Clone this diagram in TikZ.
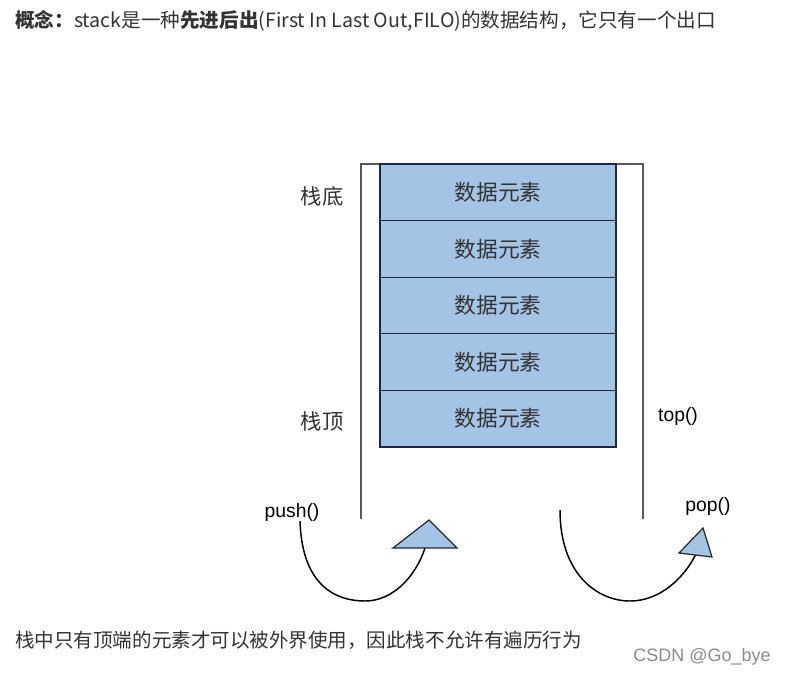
\documentclass[tikz,border=0pt]{standalone}
\usepackage{fontspec}
\setmainfont{Noto Sans CJK SC}
\newfontfamily\arialf{Liberation Sans}
\begin{document}
\begin{tikzpicture}[x=0.75pt,y=-0.75pt,
  elem/.style={draw=navy,line width=1pt,fill=boxblue,minimum width=177pt,minimum height=42.45pt,inner sep=0pt,text=txt,font=\fontsize{16.3}{19}\selectfont},
  lbl/.style={text=txt,font=\fontsize{16}{19}\selectfont,inner sep=0pt},
  fn/.style={text=black,font=\arialf\fontsize{14.5}{17}\selectfont,inner sep=0pt},
  wall/.style={draw=black!65,line width=1.1pt},
  curv/.style={draw=black,line width=1.1pt},
  tri/.style={draw=black!85,line width=0.9pt,fill=boxblue,line join=miter}]
\definecolor{boxblue}{RGB}{164,196,230}
\definecolor{navy}{RGB}{30,40,70}
\definecolor{txt}{RGB}{51,51,51}
\useasboundingbox (0,0) rectangle (787,675);
\fill[white] (0,0) rectangle (787,675);
% heading
\node[anchor=west,inner sep=0pt,text=txt,font=\fontsize{14.7}{17}\selectfont] (head) at (15,21) {\textbf{概念：}stack是一种\textbf{先进后出}(First In Last Out,FILO)的数据结构，它只有一个出口};
% container
\coordinate (wl) at (361,519);
\coordinate (wtl) at (361,164);
\coordinate (wtr) at (643,164);
\coordinate (wr) at (643,519);
\draw[wall] (wl) -- (wtl) -- (wtr) -- (wr);
% elements
\node[elem] (e1) at (498,192.3) {数据元素};
\node[elem] (e2) at (498,248.9) {数据元素};
\node[elem] (e3) at (498,305.5) {数据元素};
\node[elem] (e4) at (498,362.1) {数据元素};
\node[elem] (e5) at (498,418.7) {数据元素};
% labels
\node[lbl] (bottom) at (322,196) {栈底};
\node[lbl] (topl) at (322,421) {栈顶};
\node[fn] (top) at (678,416) {top()};
\node[fn] (push) at (292,512) {push()};
\node[fn] (pop) at (708,506) {pop()};
% push arrow
\coordinate (ps) at (300,521);
\coordinate (pb) at (365,601);
\coordinate (pe) at (425,548);
\draw[curv] (ps) .. controls (302,585) and (335,601) .. (pb) .. controls (392,601) and (415,578) .. (pe);
\draw[tri] (429,520) -- (393,548) -- (457,548) -- cycle;
% pop arrow
\coordinate (qs) at (560,510);
\coordinate (qb) at (630,601);
\coordinate (qe) at (696,554);
\draw[curv] (qs) .. controls (560,575) and (598,601) .. (qb) .. controls (660,601) and (684,578) .. (qe);
\draw[tri] (703,528) -- (679,553) -- (712,557) -- cycle;
% footer
\node[anchor=west,inner sep=0pt,text=txt,font=\fontsize{14.65}{17}\selectfont] (foot) at (15,640) {栈中只有顶端的元素才可以被外界使用，因此栈不允许有遍历行为};
\node[anchor=east,inner sep=0pt,text=black!45,font=\arialf\fontsize{13.5}{16}\selectfont] (wm) at (771,657) {CSDN @Go\_bye};
\end{tikzpicture}
\end{document}
